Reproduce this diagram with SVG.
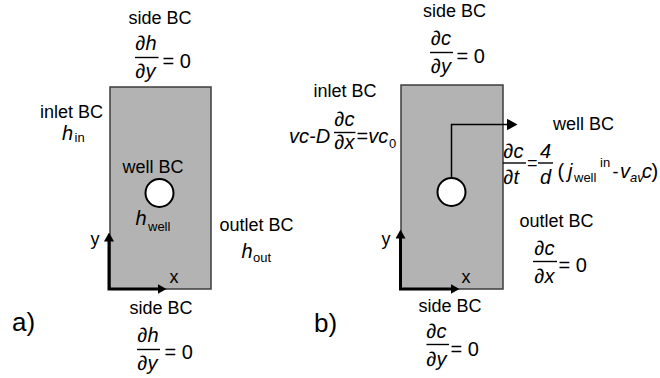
<svg xmlns="http://www.w3.org/2000/svg" width="660" height="378" viewBox="0 0 660 378">
<style>
.t{font-family:"Liberation Sans",Arial,sans-serif;font-size:18px;fill:#000}
.m{font-family:"Liberation Sans",Arial,sans-serif;font-size:20px;font-style:italic;fill:#000}
.n{font-style:normal}
.eq{font-size:20px}
.sub{font-family:"Liberation Sans",Arial,sans-serif;font-size:13px;fill:#000}
.big{font-family:"Liberation Sans",Arial,sans-serif;font-size:26px;fill:#000}
.box{fill:#b3b3b3;stroke:#3c3c3c;stroke-width:1.5}
.well{fill:#fff;stroke:#000;stroke-width:2}
.axis{fill:none;stroke:#000;stroke-width:3}
.lead{fill:none;stroke:#000;stroke-width:1.5}
.fr{stroke:#000;stroke-width:1.4}
</style>
<defs>
<marker id="ah" viewBox="0 0 9 10" markerWidth="9" markerHeight="10" refX="0.5" refY="5" orient="auto-start-reverse" markerUnits="userSpaceOnUse">
<path d="M0,0 L9,5 L0,10 z" fill="#000"/>
</marker>
<marker id="ah2" viewBox="0 0 11 12" markerWidth="11" markerHeight="12" refX="0.5" refY="6" orient="auto" markerUnits="userSpaceOnUse">
<path d="M0,0 L11,6 L0,12 z" fill="#000"/>
</marker>
</defs>

<!-- Panel a -->
<g id="a-domain"><rect class="box" x="110" y="87" width="101" height="202"/></g>
<g id="a-well"><circle class="well" cx="159.5" cy="193" r="14"/></g>

<g id="a-side-top">
<text class="t" x="160" y="24" text-anchor="middle">side BC</text>
<text class="m" x="135.5" y="50">∂h</text>
<line class="fr" x1="135" y1="57.5" x2="158.5" y2="57.5"/>
<text class="m" x="135.5" y="78">∂y</text>
<text class="t eq" x="162.5" y="67.5">= 0</text>
</g>
<g id="a-inlet">
<text class="t" x="71.5" y="118" text-anchor="middle">inlet BC</text>
<text class="m" x="62" y="140">h</text><text class="sub" x="74.5" y="142">in</text>
</g>
<g id="a-well-label">
<text class="t" x="153" y="173" text-anchor="middle">well BC</text>
<text class="m" x="135.5" y="225">h</text><text class="sub" x="148" y="231">well</text>
</g>
<g id="a-outlet">
<text class="t" x="256.5" y="231" text-anchor="middle">outlet BC</text>
<text class="m" x="241.5" y="258">h</text><text class="sub" x="253" y="262">out</text>
</g>
<g id="a-axes-labels">
<text class="t" x="90.5" y="245">y</text>
<text class="t" x="169.5" y="283">x</text>
</g>
<g id="a-side-bottom">
<text class="t" x="161" y="314" text-anchor="middle">side BC</text>
<text class="m" x="137.5" y="342">∂h</text>
<line class="fr" x1="137" y1="349.5" x2="160" y2="349.5"/>
<text class="m" x="137.5" y="370">∂y</text>
<text class="t eq" x="164.5" y="358.5">= 0</text>
</g>
<g id="a-label"><text class="big" x="12" y="331">a)</text></g>

<!-- Panel b -->
<g id="b-domain"><rect class="box" x="401" y="85" width="102" height="204"/></g>
<g id="b-well"><circle class="well" cx="451.5" cy="192" r="14"/></g>

<g id="b-side-top">
<text class="t" x="454.5" y="17" text-anchor="middle">side BC</text>
<text class="m" x="431" y="45">∂c</text>
<line class="fr" x1="430" y1="52.5" x2="453" y2="52.5"/>
<text class="m" x="431" y="73">∂y</text>
<text class="t eq" x="456.5" y="63">= 0</text>
</g>
<g id="b-inlet">
<text class="t" x="345" y="97" text-anchor="middle">inlet BC</text>
<text class="m" x="289" y="143">vc-D</text>
<text class="m" x="334.5" y="126">∂c</text>
<line class="fr" x1="334" y1="132.5" x2="355.5" y2="132.5"/>
<text class="m" x="334.5" y="149">∂x</text>
<text class="m" x="356.5" y="143"><tspan class="n">=</tspan>vc</text>
<text class="sub" x="389" y="148">0</text>
</g>
<g id="b-well-label">
<text class="t" x="583.5" y="130" text-anchor="middle">well BC</text>
<text class="m" x="503.5" y="158">∂c</text>
<line class="fr" x1="503" y1="163" x2="526" y2="163"/>
<text class="m" x="503.5" y="184">∂t</text>
<text class="t" x="527" y="169">=</text>
<text class="m" x="540" y="158">4</text>
<line class="fr" x1="538" y1="163" x2="553" y2="163"/>
<text class="m" x="540" y="184">d</text>
<text class="t eq" x="557.5" y="178">(</text>
<text class="m" x="568" y="178">j</text>
<text class="sub" x="574" y="182">well</text>
<text class="sub" x="600" y="167">in</text>
<text class="t" x="612.5" y="178">-</text>
<text class="m" x="620" y="178">v</text>
<text class="sub" x="630" y="182" style="font-style:italic">av</text>
<text class="m" x="642" y="178">c</text>
<text class="t eq" x="651.5" y="178">)</text>
</g>
<g id="b-outlet">
<text class="t" x="556.5" y="227" text-anchor="middle">outlet BC</text>
<text class="m" x="534.5" y="255">∂c</text>
<line class="fr" x1="533" y1="261.5" x2="557" y2="261.5"/>
<text class="m" x="534.5" y="283">∂x</text>
<text class="t eq" x="558.5" y="271.5">= 0</text>
</g>
<g id="b-axes-labels">
<text class="t" x="381.5" y="245">y</text>
<text class="t" x="461.5" y="283">x</text>
</g>
<g id="b-side-bottom">
<text class="t" x="450" y="311.5" text-anchor="middle">side BC</text>
<text class="m" x="426.5" y="338">∂c</text>
<line class="fr" x1="426.5" y1="344.5" x2="449" y2="344.5"/>
<text class="m" x="426.5" y="366">∂y</text>
<text class="t eq" x="450.5" y="355.5">= 0</text>
</g>
<g id="b-label"><text class="big" x="314" y="332">b)</text></g>

<g id="connectors">
<path class="axis" d="M109,241 L109,289 L158,289" marker-start="url(#ah)" marker-end="url(#ah)"/>
<path class="axis" d="M400.5,238 L400.5,289 L451,289" marker-start="url(#ah)" marker-end="url(#ah)"/>
<path class="lead" d="M451.5,178 L451.5,124.5 L507,124.5" marker-end="url(#ah2)"/>
</g>
</svg>
